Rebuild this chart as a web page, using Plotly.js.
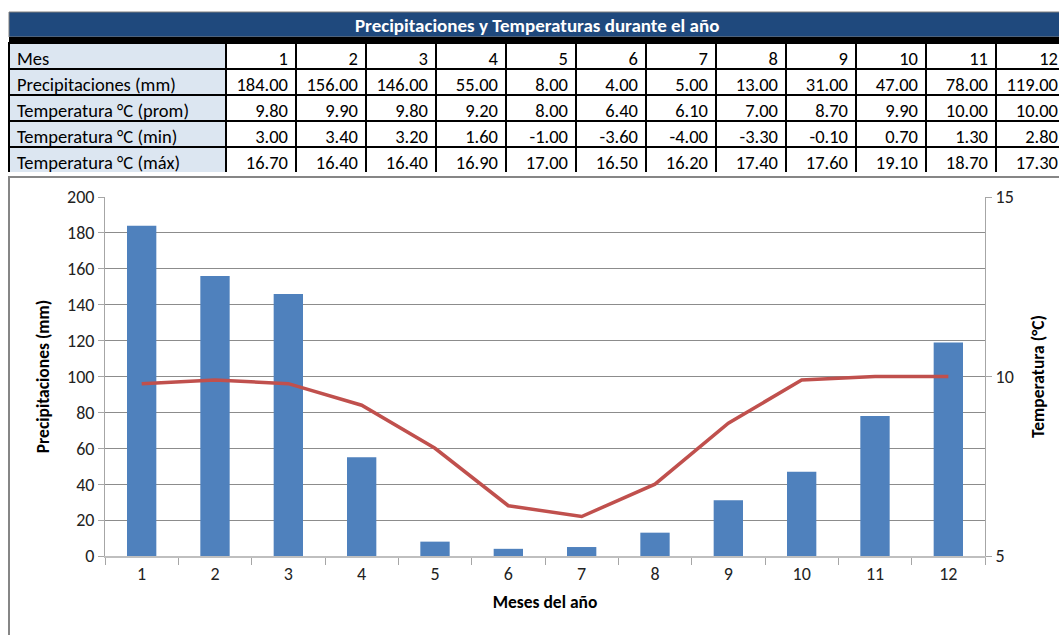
<!DOCTYPE html>
<html>
<head>
<meta charset="utf-8">
<script src="https://cdn.plot.ly/plotly-3.0.1.min.js"></script>
<style>
  html, body { margin: 0; padding: 0; overflow: hidden; background: #fff; }
  #chart { width: 1070px; height: 635px; }
</style>
</head>
<body>
<div id="chart"></div>
<script>
// Monthly climate data
const months = [1, 2, 3, 4, 5, 6, 7, 8, 9, 10, 11, 12];
const precipitation = [184, 156, 146, 55, 8, 4, 5, 13, 31, 47, 78, 119];
const tempAvg = [9.8, 9.9, 9.8, 9.2, 8.0, 6.4, 6.1, 7.0, 8.7, 9.9, 10.0, 10.0];
const tempMin = [3.0, 3.4, 3.2, 1.6, -1.0, -3.6, -4.0, -3.3, -0.1, 0.7, 1.3, 2.8];
const tempMax = [16.7, 16.4, 16.4, 16.9, 17.0, 16.5, 16.2, 17.4, 17.6, 19.1, 18.7, 17.3];
const rowLabels = ['Mes', 'Precipitaciones (mm)', 'Temperatura °C (prom)', 'Temperatura °C (min)', 'Temperatura °C (máx)'];
const tableTitle = 'Precipitaciones y Temperaturas durante el año';

const W = 1070, H = 635;
const px = v => v / W;          // pixel -> paper x
const py = v => 1 - v / H;      // pixel -> paper y

const FONT = 'Carlito, Calibri, Lato, sans-serif';
const monthCats = months.map(String);
const fmt = v => v.toFixed(2);

// Table: header row holds the months, body rows hold the series
const headerValues = [[rowLabels[0]]].concat(months.map(m => [String(m)]));
const cellValues = [rowLabels.slice(1)].concat(months.map((m, i) => [
  fmt(precipitation[i]), fmt(tempAvg[i]), fmt(tempMin[i]), fmt(tempMax[i])
]));
const colFill = ['#DCE6F1'].concat(months.map(() => '#FFFFFF'));
const colAlign = ['left'].concat(months.map(() => 'right'));
const tableFont = { family: FONT, size: 18.5, color: '#000000' };

const table = {
  type: 'table',
  domain: { x: [px(9), px(1066)], y: [py(173), py(43)] },
  columnwidth: [217].concat(months.map(() => 70)),
  header: {
    values: headerValues,
    align: colAlign,
    height: 26,
    fill: { color: colFill },
    line: { color: '#000000', width: 2 },
    font: tableFont
  },
  cells: {
    values: cellValues,
    align: colAlign,
    height: 26,
    fill: { color: colFill },
    line: { color: '#000000', width: 2 },
    font: tableFont
  }
};

const bars = {
  type: 'bar',
  x: monthCats,
  y: precipitation,
  name: 'Precipitaciones (mm)',
  marker: { color: '#4F81BD', line: { width: 0 } },
  width: 0.4,
  xaxis: 'x',
  yaxis: 'y',
  hoverinfo: 'x+y'
};

const line = {
  type: 'scatter',
  mode: 'lines',
  x: monthCats,
  y: tempAvg,
  name: 'Temperatura °C (prom)',
  line: { color: '#C0504D', width: 3.5 },
  xaxis: 'x',
  yaxis: 'y2',
  hoverinfo: 'x+y'
};

const axisFont = { family: FONT, size: 18, color: '#222222' };
const titleFont = { family: FONT, size: 17.5, color: '#000000', weight: 'bold' };

const layout = {
  width: W,
  height: H,
  margin: { l: 0, r: 0, t: 0, b: 0 },
  paper_bgcolor: '#FFFFFF',
  plot_bgcolor: '#FFFFFF',
  showlegend: false,
  xaxis: {
    domain: [px(105), px(985)],
    type: 'category',
    tickson: 'boundaries',
    ticks: 'outside',
    ticklen: 7,
    tickcolor: '#A6A6A6',
    tickfont: axisFont,
    showline: true,
    linecolor: '#BFBFBF',
    linewidth: 2,
    showgrid: false,
    zeroline: false,
    automargin: false,
    anchor: 'y',
    title: { text: 'Meses del año', font: titleFont, standoff: 12 }
  },
  yaxis: {
    domain: [py(556), py(197)],
    range: [0, 200],
    dtick: 20,
    ticks: 'outside',
    ticklen: 6,
    tickcolor: '#A6A6A6',
    tickfont: axisFont,
    showline: true,
    linecolor: '#A6A6A6',
    linewidth: 1,
    showgrid: true,
    gridcolor: '#8C8C8C',
    gridwidth: 1,
    zeroline: false,
    automargin: false,
    title: { text: 'Precipitaciones (mm)', font: titleFont, standoff: 12 }
  },
  yaxis2: {
    overlaying: 'y',
    side: 'right',
    anchor: 'x',
    range: [5, 15],
    dtick: 5,
    ticks: 'outside',
    ticklen: 6,
    tickcolor: '#A6A6A6',
    tickfont: axisFont,
    showline: true,
    linecolor: '#A6A6A6',
    linewidth: 1,
    showgrid: false,
    zeroline: false,
    automargin: false,
    title: { text: 'Temperatura (°C)', font: titleFont, standoff: 18 }
  },
  shapes: [
    // title band above the table
    { type: 'rect', xref: 'paper', yref: 'paper', layer: 'below',
      x0: px(9), x1: px(1070), y0: py(37), y1: py(12),
      fillcolor: '#1F497D', line: { color: '#7F7F7F', width: 1 } },
    // heavy rule under the title band
    { type: 'rect', xref: 'paper', yref: 'paper', layer: 'below',
      x0: px(9), x1: px(1070), y0: py(43), y1: py(37),
      fillcolor: '#000000', line: { width: 0 } },
    // chart frame
    { type: 'rect', xref: 'paper', yref: 'paper', layer: 'below',
      x0: px(9), x1: px(1080), y0: -0.05, y1: py(177),
      fillcolor: 'rgba(0,0,0,0)', line: { color: '#868686', width: 2 } }
  ],
  annotations: [
    { xref: 'paper', yref: 'paper', x: px(537), y: py(25),
      xanchor: 'center', yanchor: 'middle', showarrow: false,
      text: '<b>' + tableTitle + '</b>',
      font: { family: FONT, size: 19, color: '#FFFFFF' } }
  ]
};

Plotly.newPlot('chart', [table, bars, line], layout, { displayModeBar: false, staticPlot: true });
</script>
</body>
</html>
